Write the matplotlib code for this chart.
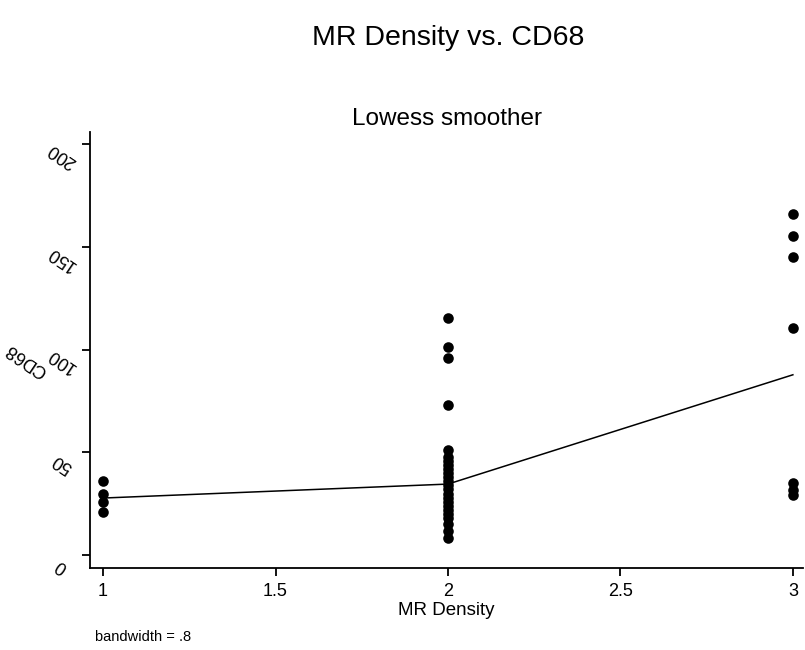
import numpy as np
import matplotlib
matplotlib.use("Agg")
import matplotlib.pyplot as plt
import matplotlib.transforms as mtransforms

plt.rcParams['font.family'] = ['Liberation Sans', 'DejaVu Sans']

# observed points (MR Density, CD68)
mr_density = [1, 1, 1, 1,
              2, 2, 2, 2, 2, 2, 2, 2, 2, 2, 2, 2, 2, 2, 2, 2, 2, 2, 2, 2, 2, 2, 2, 2,
              3, 3, 3, 3, 3, 3, 3]
cd68 = [36, 30, 26, 21,
        115.5, 101.5, 96, 73, 51, 48, 46, 44, 42, 40, 38, 36, 34, 32, 30, 28, 26, 24, 22, 20, 18, 15, 12, 8.5,
        166, 155.5, 145, 110.5, 35, 31.5, 29.5]

# lowess fit (bandwidth .8)
fit_x = [1, 2, 3]
fit_y = [27.8, 34.6, 87.8]

x_ticks = [1, 1.5, 2, 2.5, 3]
x_labels = ['1', '1.5', '2', '2.5', '3']
y_ticks = [0, 50, 100, 150, 200]
y_labels = ['0', '50', '100', '150', '200']

fig = plt.figure(figsize=(8.05, 6.5), dpi=100)
ax = fig.add_axes([0.1118, 0.126, 0.886, 0.671])

ax.scatter(mr_density, cd68, s=58, color='black', zorder=3, linewidths=0)
ax.plot(fit_x, fit_y, color='black', lw=1.1, zorder=2)

ax.set_xlim(0.962, 3.03)
ax.set_ylim(-6.3, 206)
ax.set_xticks(x_ticks)
ax.set_xticklabels(x_labels)
ax.set_yticks(y_ticks)
ax.set_yticklabels([])

# slanted, upside-down y tick labels as in the original
off = mtransforms.ScaledTranslation(-0.28, -0.11, fig.dpi_scale_trans)
for v, lab in zip(y_ticks, y_labels):
    ax.text(0, v, lab, transform=ax.get_yaxis_transform() + off,
            rotation=146, rotation_mode='anchor', ha='center', va='center',
            fontsize=13)

for s in ['top', 'right']:
    ax.spines[s].set_visible(False)
for s in ['left', 'bottom']:
    ax.spines[s].set_linewidth(1.3)
ax.tick_params(axis='both', width=1.3, length=6, labelsize=13)
ax.tick_params(axis='x', pad=5)

ax.set_xlabel('MR Density', fontsize=13.5, labelpad=1)
fig.text(27 / 805, 1 - 360 / 650, 'CD68', fontsize=13, rotation=146,
         rotation_mode='anchor', ha='center', va='center')

ax.set_title('Lowess smoother', fontsize=17.5, pad=5)
fig.text(448 / 805, 0.941, 'MR Density vs. CD68', fontsize=20.5, ha='center', va='center')
fig.text(95 / 805, 0.02, 'bandwidth = .8', fontsize=10.5, ha='left', va='center')

fig.savefig('out.png', dpi=100, facecolor='white')
